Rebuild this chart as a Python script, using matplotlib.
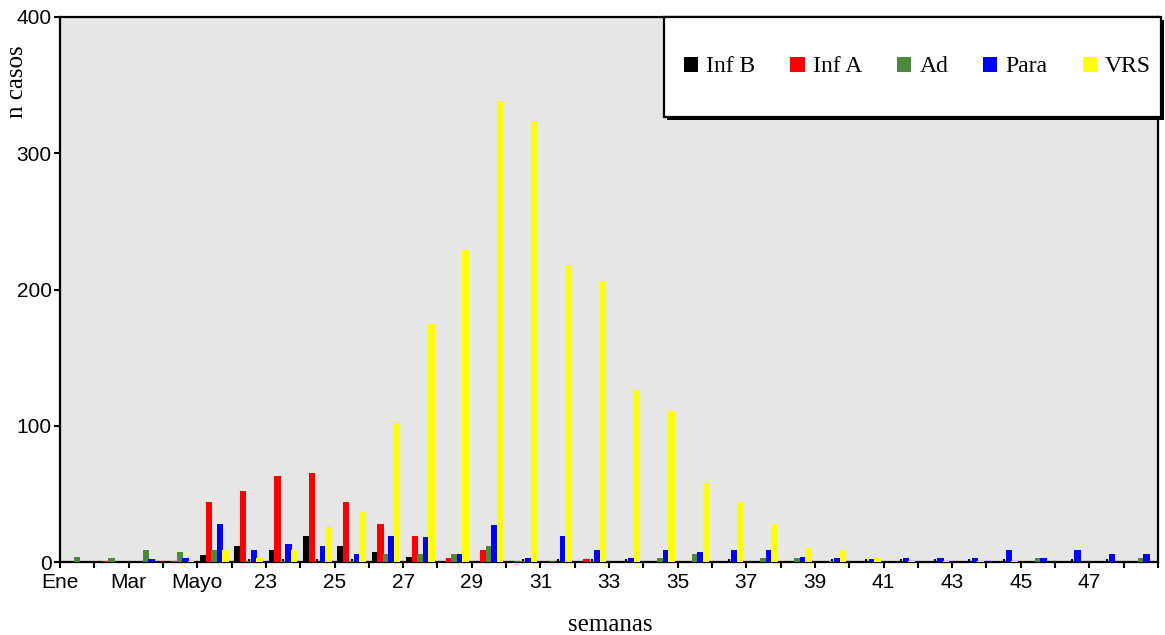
import numpy as np
import matplotlib.pyplot as plt
from matplotlib.patches import Rectangle
from matplotlib.ticker import FixedLocator

categories = ['Ene', 'Feb', 'Mar', 'Abr', 'Mayo', '22', '23', '24', '25', '26', '27',
              '28', '29', '30', '31', '32', '33', '34', '35', '36', '37', '38', '39',
              '40', '41', '42', '43', '44', '45', '46', '47', '48']
tick_labels = ['Ene', 'Mar', 'Mayo', '23', '25', '27', '29', '31', '33', '35', '37',
               '39', '41', '43', '45', '47']

inf_b = [0, 0, 0, 0, 5, 12, 9, 19, 12, 7, 4, 0, 0, 0, 0, 0,
         0, 0, 0, 0, 0, 0, 0, 0, 0, 0, 0, 0, 0, 0, 0, 0]
inf_a = [0, 1, 0, 1, 44, 52, 63, 65, 44, 28, 19, 3, 9, 1, 1, 2,
         0, 0, 0, 0, 0, 0, 0, 0, 0, 0, 0, 0, 0, 0, 0, 0]
ad = [4, 3, 9, 7, 9, 1, 1, 0, 1, 6, 6, 6, 12, 1, 0, 1,
      0, 3, 6, 0, 3, 3, 1, 0, 0, 0, 0, 0, 3, 0, 0, 3]
para = [0, 0, 2, 3, 28, 9, 13, 12, 6, 19, 18, 6, 27, 3, 19, 9,
        3, 9, 7, 9, 9, 4, 3, 2, 3, 3, 3, 9, 3, 9, 6, 6]
vrs = [0, 0, 0, 1, 9, 3, 9, 26, 37, 102, 175, 229, 338, 324, 218, 206,
       126, 111, 58, 44, 28, 10, 9, 3, 1, 1, 1, 1, 0, 0, 0, 0]

series = [inf_b, inf_a, ad, para, vrs]
names = ['Inf B', 'Inf A', 'Ad', 'Para', 'VRS']
colors = ['#000000', '#ff0000', '#4a8a3a', '#0000ff', '#ffff00']

W, H = 1165, 635
fig = plt.figure(figsize=(W / 100, H / 100), dpi=100)
ax = fig.add_axes([60 / W, 1 - 562 / H, (1158 - 60) / W, (562 - 17) / H])
ax.set_facecolor('#e6e6e6')

x = np.arange(len(categories))
step = 0.16
width = 0.19
handles = []
for j, (vals, name, col) in enumerate(zip(series, names, colors)):
    b = ax.bar(x + (j - 2) * step, vals, width, color=col, label=name,
               linewidth=0, zorder=2 + j)
    handles.append(b)

ax.set_xlim(-0.5, len(categories) - 0.5)
ax.set_ylim(0, 400)
ax.set_yticks([0, 100, 200, 300, 400])

# category boundaries get the outer ticks, labels on every second one
bounds = np.arange(len(categories) + 1) - 0.5
ax.xaxis.set_major_locator(FixedLocator(bounds))
labels = [''] * len(bounds)
for i, t in enumerate(tick_labels):
    labels[2 * i] = t
ax.set_xticklabels(labels)
ax.xaxis.set_minor_locator(FixedLocator(x))
ax.tick_params(axis='x', which='minor', direction='in', length=2.5, width=1.5, color='black')

ax.tick_params(axis='both', which='major', direction='out', length=4, width=1.5,
               labelsize=15)
ax.tick_params(axis='x', which='major', pad=4)
ax.tick_params(axis='y', which='major', pad=2)
for lab in ax.get_xticklabels() + ax.get_yticklabels():
    lab.set_fontfamily('Liberation Sans')

for sp in ax.spines.values():
    sp.set_linewidth(1.6)
    sp.set_color('black')

fig.text(610 / W, 1 - 625 / H, 'semanas', family='Liberation Serif',
         fontsize=18, ha='center', va='center')
fig.text(17 / W, 1 - 82 / H, 'n casos', family='Liberation Serif',
         fontsize=18, rotation=90, ha='center', va='center')

# legend box with a hard black shadow
x0, y0, x1, y1 = 664, 17, 1161, 117
fig.patches.append(Rectangle((x0 / W + 3 / W, 1 - y1 / H - 3 / H), (x1 - x0) / W, (y1 - y0) / H,
                             transform=fig.transFigure, facecolor='black', edgecolor='none',
                             zorder=10))
fig.patches.append(Rectangle((x0 / W, 1 - y1 / H), (x1 - x0) / W, (y1 - y0) / H,
                             transform=fig.transFigure, facecolor='white', edgecolor='black',
                             linewidth=1.6, zorder=11))

leg = fig.legend(handles=handles, labels=names, ncol=5, mode='expand',
                 loc='center left',
                 bbox_to_anchor=(684 / W, 1 - y1 / H, (1151 - 684) / W, (y1 - y0) / H),
                 borderaxespad=0, borderpad=0, frameon=False,
                 handlelength=0.6, handleheight=0.6, handletextpad=0.35,
                 prop={'family': 'Liberation Serif', 'size': 17})
leg.set_zorder(12)

fig.savefig('out.png', dpi=100)
